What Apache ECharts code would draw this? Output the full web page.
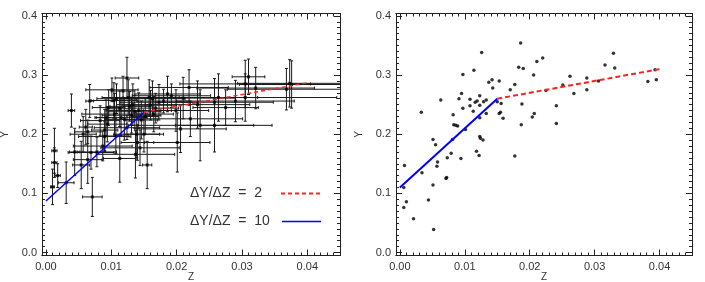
<!DOCTYPE html>
<html>
<head>
<meta charset="utf-8">
<script src="https://cdn.jsdelivr.net/npm/echarts@6/dist/echarts.min.js"></script>
<style>
html,body{margin:0;padding:0;background:#fff;}
#chart{width:705px;height:282px;}
</style>
</head>
<body>
<div id="chart"></div>
<script>
// ---- Left panel: points with error bars ----
const leftZ    = [0.0010,0.0013,0.0013,0.0018,0.0031,0.0039,0.0044,0.0054,0.0061,0.0064,0.0067,0.0064,0.0069,0.0071,0.0087,0.0090,0.0092,0.0094,0.0101,0.0104,0.0105,0.0113,0.0118,0.0124,0.0115,0.0124,0.0128,0.0131,0.0136,0.0139,0.0140,0.0144,0.0137,0.0146,0.0155,0.0150,0.0160,0.0165,0.0163,0.0173,0.0186,0.0192,0.0201,0.0206,0.0210,0.0219,0.0221,0.0232,0.0236,0.0258,0.0258,0.0264,0.0275,0.0290,0.0305,0.0310,0.0321,0.0305,0.0368,0.0373,0.0376,0.0083,0.0090,0.0096,0.0108,0.0113,0.0120,0.0126,0.0133,0.0142,0.0152,0.0158,0.0168,0.0180,0.0199,0.0107,0.0078,0.0057];
const leftY    = [0.111,0.172,0.152,0.130,0.118,0.240,0.170,0.148,0.212,0.204,0.256,0.157,0.169,0.094,0.180,0.196,0.228,0.217,0.275,0.257,0.234,0.159,0.273,0.295,0.228,0.211,0.247,0.232,0.238,0.200,0.186,0.177,0.166,0.224,0.148,0.200,0.249,0.234,0.260,0.254,0.268,0.265,0.186,0.209,0.261,0.279,0.226,0.250,0.215,0.215,0.254,0.262,0.245,0.256,0.285,0.297,0.278,0.262,0.276,0.286,0.284,0.223,0.207,0.245,0.260,0.243,0.225,0.262,0.250,0.240,0.230,0.262,0.244,0.256,0.240,0.197,0.170,0.200];
const leftZerr = [0.0003,0.0004,0.0004,0.0004,0.0012,0.0005,0.0008,0.0013,0.0010,0.0020,0.0006,0.0022,0.0035,0.0015,0.0045,0.0040,0.0015,0.0030,0.0040,0.0035,0.0050,0.0025,0.0018,0.0018,0.0040,0.0050,0.0030,0.0045,0.0040,0.0035,0.0025,0.0060,0.0060,0.0025,0.0007,0.0030,0.0040,0.0030,0.0050,0.0060,0.0050,0.0060,0.0050,0.0070,0.0080,0.0060,0.0080,0.0080,0.0110,0.0060,0.0090,0.0060,0.0050,0.0090,0.0100,0.0025,0.0090,0.0140,0.0090,0.0080,0.0080,0.0030,0.0020,0.0025,0.0030,0.0020,0.0030,0.0040,0.0025,0.0050,0.0020,0.0040,0.0035,0.0040,0.0050,0.0020,0.0030,0.0020];
const leftYerr = [0.030,0.038,0.025,0.020,0.035,0.028,0.040,0.040,0.030,0.020,0.028,0.040,0.028,0.033,0.025,0.025,0.030,0.030,0.020,0.030,0.035,0.040,0.025,0.035,0.030,0.020,0.025,0.030,0.028,0.040,0.030,0.030,0.040,0.032,0.040,0.030,0.025,0.030,0.030,0.030,0.030,0.020,0.050,0.040,0.035,0.030,0.030,0.040,0.060,0.045,0.040,0.040,0.030,0.035,0.040,0.030,0.035,0.040,0.035,0.040,0.040,0.025,0.035,0.030,0.025,0.030,0.035,0.030,0.035,0.030,0.030,0.030,0.025,0.020,0.035,0.030,0.025,0.030];

// ---- Right panel: points ----
const rightZ = [0.0006,0.0006,0.0007,0.0010,0.0021,0.0033,0.0034,0.0044,0.0051,0.0051,0.0052,0.0055,0.0057,0.0058,0.0063,0.0071,0.0072,0.0073,0.0079,0.0081,0.0082,0.0083,0.0086,0.0089,0.0091,0.0094,0.0095,0.0097,0.0097,0.0101,0.0108,0.0108,0.0113,0.0114,0.0116,0.0118,0.0119,0.0122,0.0123,0.0123,0.0123,0.0123,0.0124,0.0126,0.0128,0.0129,0.0133,0.0133,0.0137,0.0142,0.0143,0.0150,0.0153,0.0153,0.0155,0.0156,0.0159,0.0170,0.0177,0.0177,0.0183,0.0186,0.0187,0.0188,0.0190,0.0204,0.0206,0.0207,0.0211,0.0220,0.0225,0.0241,0.0241,0.0251,0.0262,0.0268,0.0288,0.0288,0.0306,0.0316,0.0329,0.0331,0.0382,0.0393,0.0395];
const rightY = [0.076,0.110,0.147,0.086,0.057,0.237,0.135,0.089,0.191,0.114,0.039,0.182,0.146,0.153,0.258,0.125,0.127,0.160,0.168,0.191,0.233,0.216,0.215,0.214,0.260,0.159,0.269,0.301,0.244,0.208,0.259,0.248,0.239,0.308,0.254,0.171,0.256,0.164,0.265,0.249,0.228,0.196,0.193,0.338,0.190,0.255,0.235,0.258,0.288,0.292,0.278,0.255,0.290,0.235,0.237,0.252,0.227,0.275,0.284,0.163,0.313,0.354,0.216,0.251,0.311,0.229,0.300,0.235,0.323,0.329,0.274,0.218,0.248,0.283,0.298,0.269,0.295,0.275,0.290,0.317,0.337,0.312,0.289,0.309,0.292];

// ---- Broken-line fits ----
const leftSteepZ   = [0.000, 0.015];
const leftSteepY   = [0.087, 0.237];
const leftShallowZ = [0.015, 0.040];
const leftShallowY = [0.237, 0.287];
const rightSteepZ   = [0.000, 0.015];
const rightSteepY   = [0.110, 0.260];
const rightShallowZ = [0.015, 0.040];
const rightShallowY = [0.260, 0.310];

// ---- Axis ticks ----
const xMajorTicks = [0, 0.01, 0.02, 0.03, 0.04];
const yMajorTicks = [0, 0.1, 0.2, 0.3, 0.4];
const legendLabels = ['\u0394Y/\u0394Z  =  2', '\u0394Y/\u0394Z  =  10'];

const xMinorTicks = [];
for (let i = 0; i <= 45; i++) xMinorTicks.push(i / 1000);
const yMinorTicks = [];
for (let i = 0; i <= 40; i++) yMinorTicks.push(i / 100);

const X_MIN = -0.0006, X_MAX = 0.045, Y_MIN = -0.005, Y_MAX = 0.404;
const FONT = 'Liberation Sans';
const TXT = '#333';
const AX = '#222';

function zip(a, b) { return a.map((v, i) => [v, b[i]]); }

function xAxes(g) {
  const base = {
    gridIndex: g, type: 'value', min: X_MIN, max: X_MAX,
    splitLine: { show: false },
    axisLine: { show: true, onZero: false, lineStyle: { color: AX, width: 1 } }
  };
  return [
    Object.assign({}, base, {
      position: 'bottom',
      axisTick: { show: true, inside: true, length: 6, customValues: xMajorTicks, lineStyle: { color: AX } },
      axisLabel: { show: true, customValues: xMajorTicks, formatter: v => v.toFixed(2), fontSize: 11, fontFamily: FONT, color: TXT, margin: 6 },
      name: 'Z', nameLocation: 'middle', nameGap: 17, nameMoveOverlap: false,
      nameTextStyle: { fontSize: 10, fontFamily: FONT, color: TXT }
    }),
    Object.assign({}, base, {
      position: 'bottom',
      axisTick: { show: true, inside: true, length: 3, customValues: xMinorTicks, lineStyle: { color: AX } },
      axisLabel: { show: false }
    }),
    Object.assign({}, base, {
      position: 'top',
      axisTick: { show: true, inside: true, length: 6, customValues: xMajorTicks, lineStyle: { color: AX } },
      axisLabel: { show: false }
    }),
    Object.assign({}, base, {
      position: 'top',
      axisTick: { show: true, inside: true, length: 3, customValues: xMinorTicks, lineStyle: { color: AX } },
      axisLabel: { show: false }
    })
  ];
}
function yAxes(g) {
  const base = {
    gridIndex: g, type: 'value', min: Y_MIN, max: Y_MAX,
    splitLine: { show: false },
    axisLine: { show: true, onZero: false, lineStyle: { color: AX, width: 1 } }
  };
  return [
    Object.assign({}, base, {
      position: 'left',
      axisTick: { show: true, inside: true, length: 6, customValues: yMajorTicks, lineStyle: { color: AX } },
      axisLabel: { show: true, customValues: yMajorTicks, formatter: v => v.toFixed(1), fontSize: 11, fontFamily: FONT, color: TXT, margin: 5 },
      name: 'Y', nameLocation: 'middle', nameGap: 32, nameRotate: 90, nameMoveOverlap: false,
      nameTextStyle: { fontSize: 10, fontFamily: FONT, color: TXT }
    }),
    Object.assign({}, base, {
      position: 'left',
      axisTick: { show: true, inside: true, length: 3, customValues: yMinorTicks, lineStyle: { color: AX } },
      axisLabel: { show: false }
    }),
    Object.assign({}, base, {
      position: 'right',
      axisTick: { show: true, inside: true, length: 6, customValues: yMajorTicks, lineStyle: { color: AX } },
      axisLabel: { show: false }
    }),
    Object.assign({}, base, {
      position: 'right',
      axisTick: { show: true, inside: true, length: 3, customValues: yMinorTicks, lineStyle: { color: AX } },
      axisLabel: { show: false }
    })
  ];
}

const errData = leftZ.map((z, i) => [z, leftY[i], leftZerr[i], leftYerr[i]]);

function renderErr(params, api) {
  const z = api.value(0), y = api.value(1), ze = api.value(2), ye = api.value(3);
  const l = api.coord([z - ze, y]), r = api.coord([z + ze, y]);
  const t = api.coord([z, y + ye]), b = api.coord([z, y - ye]);
  const cap = 1.5;
  const st = { stroke: '#1a1a1a', lineWidth: 1 };
  const seg = (x1, y1, x2, y2) => ({ type: 'line', shape: { x1, y1, x2, y2 }, style: st, silent: true });
  return {
    type: 'group',
    children: [
      seg(l[0], l[1], r[0], r[1]),
      seg(l[0], l[1] - cap, l[0], l[1] + cap),
      seg(r[0], r[1] - cap, r[0], r[1] + cap),
      seg(t[0], t[1], b[0], b[1]),
      seg(t[0] - cap, t[1], t[0] + cap, t[1]),
      seg(b[0] - cap, b[1], b[0] + cap, b[1])
    ]
  };
}

const chart = echarts.init(document.getElementById('chart'), null, { renderer: 'canvas' });
const option = {
  backgroundColor: '#fff',
  animation: false,
  grid: [
    { left: 42, top: 13.5, width: 298, height: 242, containLabel: false, outerBoundsMode: 'none' },
    { left: 396, top: 13.5, width: 296, height: 242, containLabel: false, outerBoundsMode: 'none' }
  ],
  xAxis: xAxes(0).concat(xAxes(1)),
  yAxis: yAxes(0).concat(yAxes(1)),
  series: [
    { type: 'custom', xAxisIndex: 0, yAxisIndex: 0, data: errData, renderItem: renderErr, clip: true, z: 2 },
    { type: 'scatter', xAxisIndex: 0, yAxisIndex: 0, data: zip(leftZ, leftY), symbol: 'rect', symbolSize: 3, itemStyle: { color: '#000' }, z: 3 },
    { type: 'line', xAxisIndex: 0, yAxisIndex: 0, data: zip(leftSteepZ, leftSteepY), symbol: 'none', lineStyle: { color: '#0000ff', width: 1.5 }, z: 5 },
    { type: 'line', xAxisIndex: 0, yAxisIndex: 0, data: zip(leftShallowZ, leftShallowY), symbol: 'none', lineStyle: { color: '#ff2020', width: 1.5, type: [4, 3] }, z: 5 },
    { type: 'scatter', xAxisIndex: 4, yAxisIndex: 4, data: zip(rightZ, rightY), symbol: 'circle', symbolSize: 3.5, itemStyle: { color: '#000' }, z: 3 },
    { type: 'line', xAxisIndex: 4, yAxisIndex: 4, data: zip(rightSteepZ, rightSteepY), symbol: 'none', lineStyle: { color: '#0000ff', width: 2 }, z: 5 },
    { type: 'line', xAxisIndex: 4, yAxisIndex: 4, data: zip(rightShallowZ, rightShallowY), symbol: 'none', lineStyle: { color: '#ff2020', width: 2, type: [5, 3] }, z: 5 }
  ],
  graphic: [
    { type: 'text', left: 190, top: 186, style: { text: legendLabels[0], font: '14px "Liberation Sans"', fill: TXT } },
    { type: 'line', shape: { x1: 281, y1: 193.5, x2: 321, y2: 193.5 }, style: { stroke: '#ff2020', lineWidth: 2, lineDash: [4, 3] } },
    { type: 'text', left: 190, top: 214, style: { text: legendLabels[1], font: '14px "Liberation Sans"', fill: TXT } },
    { type: 'line', shape: { x1: 282, y1: 221.5, x2: 321, y2: 221.5 }, style: { stroke: '#0000ff', lineWidth: 1.5 } }
  ]
};
chart.setOption(option);
</script>
</body>
</html>
